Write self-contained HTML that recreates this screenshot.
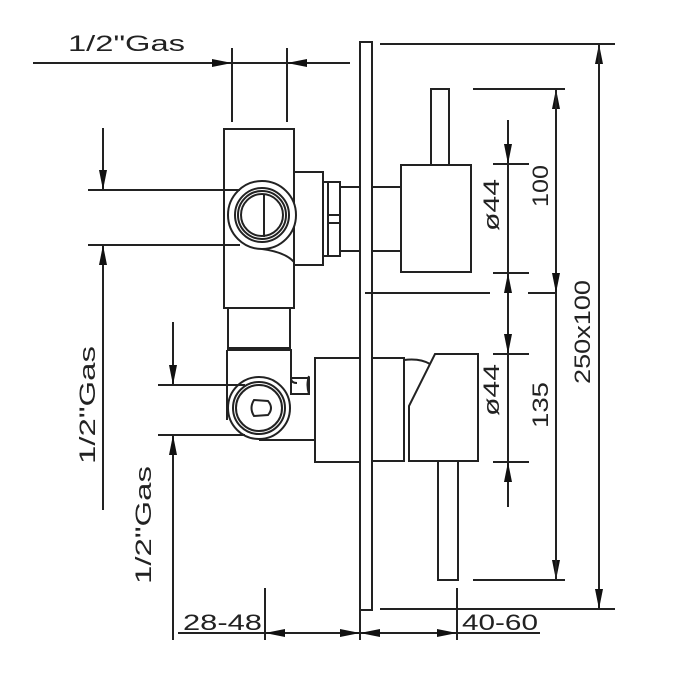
<!DOCTYPE html>
<html><head><style>html,body{margin:0;padding:0;background:#fff}svg{display:block}text{font-family:"Liberation Sans",sans-serif;font-size:22px;fill:#222}</style></head><body>
<svg width="673" height="673" viewBox="0 0 673 673" xmlns="http://www.w3.org/2000/svg">
<defs>
<marker id="a" viewBox="0 0 20 8" refX="20" refY="4" markerWidth="20" markerHeight="8" markerUnits="userSpaceOnUse" orient="auto"><path d="M0,0 L20,4 L0,8 Z" fill="#111"/></marker>
</defs>
<g stroke="#222" stroke-width="2" fill="none">
<line x1="33" y1="63" x2="232" y2="63" marker-end="url(#a)"/>
<line x1="232" y1="63" x2="287" y2="63"/>
<line x1="330" y1="63" x2="287" y2="63" marker-end="url(#a)"/>
<line x1="330" y1="63" x2="350" y2="63"/>
<line x1="232" y1="48" x2="232" y2="122"/>
<line x1="287" y1="48" x2="287" y2="122"/>
<rect x="360" y="42" width="12" height="568"/>
<line x1="380" y1="44" x2="615" y2="44"/>
<line x1="380" y1="609" x2="615" y2="609"/>
<line x1="599" y1="609" x2="599" y2="44" marker-end="url(#a)"/>
<line x1="599" y1="44" x2="599" y2="609" marker-end="url(#a)"/>
<line x1="473" y1="89" x2="565" y2="89"/>
<line x1="473" y1="580" x2="565" y2="580"/>
<line x1="365" y1="293" x2="490" y2="293"/>
<line x1="528" y1="293" x2="557" y2="293"/>
<line x1="556" y1="293" x2="556" y2="89" marker-end="url(#a)"/>
<line x1="556" y1="89" x2="556" y2="293" marker-end="url(#a)"/>
<line x1="556" y1="293" x2="556" y2="580" marker-end="url(#a)"/>
<line x1="556" y1="580" x2="556" y2="293"/>
<line x1="508" y1="120" x2="508" y2="164" marker-end="url(#a)"/>
<line x1="493" y1="164" x2="529" y2="164"/>
<line x1="508" y1="164" x2="508" y2="273"/>
<line x1="493" y1="273" x2="529" y2="273"/>
<line x1="508" y1="300" x2="508" y2="273" marker-end="url(#a)"/>
<line x1="508" y1="300" x2="508" y2="354" marker-end="url(#a)"/>
<line x1="493" y1="354" x2="529" y2="354"/>
<line x1="508" y1="354" x2="508" y2="462"/>
<line x1="493" y1="462" x2="529" y2="462"/>
<line x1="508" y1="507" x2="508" y2="462" marker-end="url(#a)"/>
<rect x="401" y="165" width="70" height="107"/>
<rect x="431" y="89" width="18" height="76"/>
<line x1="372" y1="187" x2="401" y2="187"/>
<line x1="372" y1="251" x2="401" y2="251"/>
<rect x="224" y="129" width="70" height="179"/>
<rect x="294" y="172" width="29" height="93"/>
<rect x="323" y="182" width="17" height="74"/>
<line x1="328" y1="182" x2="328" y2="256"/>
<line x1="328" y1="215" x2="340" y2="215"/>
<line x1="328" y1="223" x2="340" y2="223"/>
<line x1="340" y1="187" x2="361" y2="187"/>
<line x1="340" y1="251" x2="361" y2="251"/>
<circle cx="262" cy="215" r="34" fill="#fff"/>
<circle cx="262" cy="215" r="27"/>
<circle cx="262" cy="215" r="24"/>
<circle cx="262" cy="215" r="21"/>
<line x1="264" y1="195" x2="264" y2="237"/>
<path d="M262,249 Q285,252 294,262"/>
<line x1="88" y1="190" x2="240" y2="190"/>
<line x1="88" y1="245" x2="240" y2="245"/>
<line x1="103" y1="128" x2="103" y2="190" marker-end="url(#a)"/>
<line x1="103" y1="510" x2="103" y2="245" marker-end="url(#a)"/>
<rect x="228" y="308" width="62" height="40"/>
<path d="M227,350 L291,350 L291,378 Q291,383 297,383"/>
<line x1="227" y1="350" x2="227" y2="420"/>
<rect x="291" y="378" width="18" height="16"/>
<path d="M309,376 Q306,385 309,394"/>
<circle cx="259" cy="408" r="31" fill="#fff"/>
<circle cx="259" cy="408" r="26"/>
<circle cx="259" cy="408" r="23"/>
<path d="M254,400 L268,401 Q274,408 268,415 L254,416 Q249,408 254,400 Z"/>
<rect x="315" y="358" width="45" height="104"/>
<line x1="259" y1="440" x2="315" y2="440"/>
<rect x="372" y="358" width="32" height="103"/>
<path d="M435,354 L478,354 L478,461 L409,461 L409,406 Z"/>
<path d="M404,360 Q420,358 430,364"/>
<rect x="438" y="461" width="20" height="119"/>
<line x1="158" y1="385" x2="245" y2="385"/>
<line x1="158" y1="435" x2="245" y2="435"/>
<line x1="173" y1="322" x2="173" y2="385" marker-end="url(#a)"/>
<line x1="173" y1="640" x2="173" y2="435" marker-end="url(#a)"/>
<line x1="178" y1="633" x2="540" y2="633"/>
<line x1="265" y1="588" x2="265" y2="640"/>
<line x1="360" y1="610" x2="360" y2="640"/>
<line x1="457" y1="588" x2="457" y2="640"/>
<line x1="300" y1="633" x2="265" y2="633" marker-end="url(#a)"/>
<line x1="330" y1="633" x2="360" y2="633" marker-end="url(#a)"/>
<line x1="395" y1="633" x2="360" y2="633" marker-end="url(#a)"/>
<line x1="425" y1="633" x2="457" y2="633" marker-end="url(#a)"/>
</g>
<text x="68" y="51" textLength="117" lengthAdjust="spacingAndGlyphs">1/2"Gas</text>
<text x="183" y="630" textLength="79" lengthAdjust="spacingAndGlyphs">28-48</text>
<text x="462" y="630" textLength="76" lengthAdjust="spacingAndGlyphs">40-60</text>
<text transform="translate(95,405) rotate(-90)" text-anchor="middle" textLength="118" lengthAdjust="spacingAndGlyphs">1/2"Gas</text>
<text transform="translate(151,525) rotate(-90)" text-anchor="middle" textLength="118" lengthAdjust="spacingAndGlyphs">1/2"Gas</text>
<text transform="translate(499,205) rotate(-90)" text-anchor="middle" textLength="52" lengthAdjust="spacingAndGlyphs">ø44</text>
<text transform="translate(499,390) rotate(-90)" text-anchor="middle" textLength="52" lengthAdjust="spacingAndGlyphs">ø44</text>
<text transform="translate(548,186) rotate(-90)" text-anchor="middle" textLength="42" lengthAdjust="spacingAndGlyphs">100</text>
<text transform="translate(548,405) rotate(-90)" text-anchor="middle" textLength="46" lengthAdjust="spacingAndGlyphs">135</text>
<text transform="translate(590,332) rotate(-90)" text-anchor="middle" textLength="104" lengthAdjust="spacingAndGlyphs">250x100</text>
</svg>
</body></html>
